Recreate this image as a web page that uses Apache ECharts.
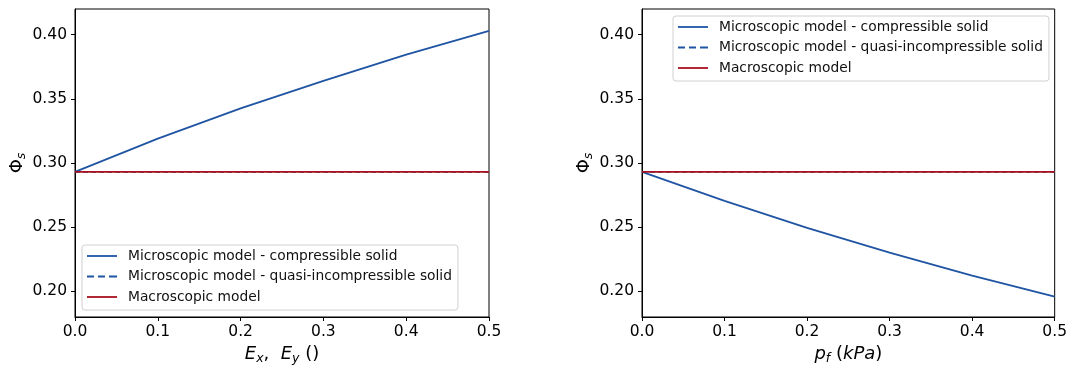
<!DOCTYPE html>
<html>
<head>
<meta charset="utf-8">
<script src="https://cdn.jsdelivr.net/npm/echarts@6/dist/echarts.min.js"></script>
<style>
  html, body { margin: 0; padding: 0; background: #fff; }
  #chart { width: 1070px; height: 370px; }
</style>
</head>
<body>
<div id="chart"></div>
<script>
// Strain / fluid pressure sample points (shared x values)
const strainX = [0.0, 0.1, 0.2, 0.3, 0.4, 0.5];
const pressureX = [0.0, 0.1, 0.2, 0.3, 0.4, 0.5];

// Solid volume fraction vs. strain
const strainCompressible = [0.2931, 0.3190, 0.3425, 0.3640, 0.3845, 0.4030];
const strainQuasiIncomp = [0.2931, 0.2931, 0.2931, 0.2931, 0.2931, 0.2931];
const strainMacroscopic = [0.2931, 0.2931, 0.2931, 0.2931, 0.2931, 0.2931];

// Solid volume fraction vs. fluid pressure
const pressureCompressible = [0.2931, 0.2705, 0.2495, 0.2302, 0.2122, 0.1958];
const pressureQuasiIncomp = [0.2931, 0.2931, 0.2931, 0.2931, 0.2931, 0.2931];
const pressureMacroscopic = [0.2931, 0.2931, 0.2931, 0.2931, 0.2931, 0.2931];

const seriesNames = [
  'Microscopic model - compressible solid',
  'Microscopic model - quasi-incompressible solid',
  'Macroscopic model'
];
const yTicks = [0.20, 0.25, 0.30, 0.35, 0.40];

const BLUE = '#1f54a3';
const RED = '#a8101e';
const FONT = 'DejaVu Sans';

// Legend keys: a plain stroke and a dashed stroke, 30px wide
const ICON_SOLID = 'path://M0,0h30v1.8h-30z';
const ICON_DASHED = 'path://M0,0h7v1.8h-7z M11,0h7v1.8h-7z M22,0h8v1.8h-8z';
const legendIcons = [ICON_SOLID, ICON_DASHED, ICON_SOLID];

const pairs = (xs, ys) => xs.map((x, i) => [x, ys[i]]);

const richName = {
  it: { fontFamily: FONT, fontSize: 18, fontStyle: 'italic', color: '#000' },
  rm: { fontFamily: FONT, fontSize: 18, color: '#000' },
  sub: { fontFamily: FONT, fontSize: 12.5, fontStyle: 'italic', color: '#000', padding: [8, 0, 0, 0] }
};

function xAxis(gridIndex, name) {
  return {
    type: 'value', gridIndex, min: 0, max: 0.5, interval: 0.1,
    name, nameLocation: 'middle', nameGap: 27,
    nameTextStyle: { fontFamily: FONT, fontSize: 18, color: '#000', rich: richName },
    axisLine: { show: true, onZero: false, lineStyle: { color: '#000', width: 1 } },
    axisTick: { show: true, inside: false, length: 4, lineStyle: { color: '#000' } },
    axisLabel: { fontFamily: FONT, fontSize: 15.5, color: '#000', margin: 7,
      formatter: v => v.toFixed(1) },
    splitLine: { show: false }
  };
}

function yAxis(gridIndex) {
  return {
    type: 'value', gridIndex, min: 0.18, max: 0.42,
    name: '{rm|Φ}{sub|s}', nameLocation: 'middle', nameGap: 47, nameRotate: 90,
    nameTextStyle: { fontFamily: FONT, fontSize: 18, color: '#000', rich: richName },
    axisLine: { show: true, onZero: false, lineStyle: { color: '#000', width: 1 } },
    axisTick: { show: true, inside: false, length: 4, customValues: yTicks, lineStyle: { color: '#000' } },
    axisLabel: { fontFamily: FONT, fontSize: 15.5, color: '#000', margin: 8,
      customValues: yTicks, formatter: v => v.toFixed(2) },
    splitLine: { show: false }
  };
}

function legend(left, top) {
  return {
    left, top, orient: 'vertical',
    data: seriesNames.map((name, i) => ({ name, icon: legendIcons[i] })),
    itemWidth: 30, itemHeight: 14, itemGap: 6.5,
    symbolKeepAspect: true,
    itemStyle: { borderWidth: 0 },
    padding: [4, 6, 6, 5],
    backgroundColor: 'rgba(255,255,255,0.85)',
    borderColor: '#d0d0d0', borderWidth: 1, borderRadius: 3,
    textStyle: { fontFamily: FONT, fontSize: 13.8, color: '#111', padding: [0, 0, 0, 6] }
  };
}

function lineSeries(name, data, idx, color, type, width, z) {
  return {
    name, type: 'line', data, xAxisIndex: idx, yAxisIndex: idx,
    symbol: 'none', showSymbol: false, animation: false, z,
    lineStyle: { color, width, type },
    itemStyle: { color }
  };
}

const chart = echarts.init(document.getElementById('chart'), null, { renderer: 'canvas' });
chart.setOption({
  animation: false,
  backgroundColor: '#fff',
  grid: [
    { left: 75, right: 581, top: 9, bottom: 52, show: true, borderColor: '#000', borderWidth: 1 },
    { left: 642, right: 13, top: 9, bottom: 52, show: true, borderColor: '#000', borderWidth: 1 }
  ],
  xAxis: [
    xAxis(0, '{it|E}{sub|x}{rm|,  }{it|E}{sub|y}{rm| ()}'),
    xAxis(1, '{it|p}{sub|f}{rm| (}{it|kPa}{rm|)}')
  ],
  yAxis: [yAxis(0), yAxis(1)],
  legend: [legend(82, 245), legend(673, 16)],
  series: [
    lineSeries(seriesNames[0], pairs(strainX, strainCompressible), 0, BLUE, 'solid', 1.8, 3),
    lineSeries(seriesNames[1], pairs(strainX, strainQuasiIncomp), 0, BLUE, [5, 3], 1.8, 4),
    lineSeries(seriesNames[2], pairs(strainX, strainMacroscopic), 0, RED, 'solid', 1.8, 5),
    lineSeries(seriesNames[0], pairs(pressureX, pressureCompressible), 1, BLUE, 'solid', 1.8, 3),
    lineSeries(seriesNames[1], pairs(pressureX, pressureQuasiIncomp), 1, BLUE, [5, 3], 1.8, 4),
    lineSeries(seriesNames[2], pairs(pressureX, pressureMacroscopic), 1, RED, 'solid', 1.8, 5)
  ]
});
</script>
</body>
</html>
